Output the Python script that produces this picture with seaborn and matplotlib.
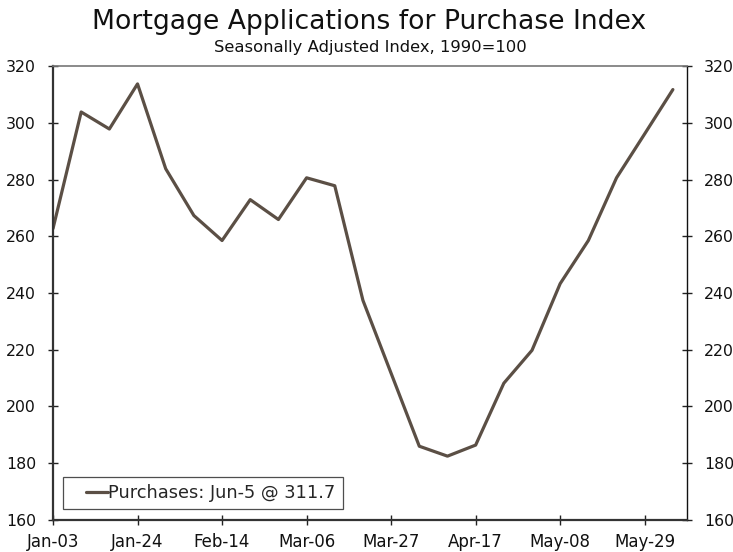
import matplotlib
matplotlib.use("Agg")
import matplotlib.pyplot as plt
from matplotlib.legend_handler import HandlerLine2D
from matplotlib.lines import Line2D
import seaborn as sns
import pandas as pd
import numpy as np

weeks = ["Jan-03", "Jan-10", "Jan-17", "Jan-24", "Jan-31", "Feb-07", "Feb-14", "Feb-21",
         "Feb-28", "Mar-06", "Mar-13", "Mar-20", "Mar-27", "Apr-03", "Apr-10", "Apr-17",
         "Apr-24", "May-01", "May-08", "May-15", "May-22", "May-29", "Jun-05"]
purchases = [262.7, 303.8, 297.8, 313.7, 283.8, 267.3, 258.5, 272.9, 265.9, 280.6, 277.8,
             237.4, 211.7, 186.0, 182.5, 186.4, 208.2, 219.8, 243.3, 258.5, 280.6, 296.1, 311.7]
tick_labels = ["Jan-03", "Jan-24", "Feb-14", "Mar-06", "Mar-27", "Apr-17", "May-08", "May-29"]
y_ticks = [160, 180, 200, 220, 240, 260, 280, 300, 320]
series_label = "Purchases: Jun-5 @ 311.7"

df = pd.DataFrame({"idx": np.arange(len(weeks)), "week": weeks, "value": purchases})

sns.set_theme(style="white")
plt.rcParams["font.family"] = ["DejaVu Sans"]

fig = plt.figure(figsize=(7.33, 5.52), dpi=100)
ax = fig.add_axes([0.0723, 0.058, 0.9372 - 0.0723, 0.8804 - 0.058])

line_color = "#5b4f45"
sns.lineplot(data=df, x="idx", y="value", ax=ax, color=line_color, linewidth=2.3,
             label=series_label)

ax.set_xlim(0, 22.5)
ax.set_ylim(160, 320)
tick_pos = [weeks.index(t) for t in tick_labels]
ax.set_xticks(tick_pos)
ax.set_xticklabels(tick_labels)
ax.set_yticks(y_ticks)
ax.set_xlabel("")
ax.set_ylabel("")

ax.tick_params(axis="x", direction="inout", length=7.5, width=1.0, color="#222222",
               labelsize=12, pad=5.8, labelcolor="#111111", bottom=True)
ax.tick_params(axis="y", direction="inout", length=7.5, width=1.0, color="#222222",
               labelsize=11.3, pad=8.5, labelcolor="#111111", left=True, right=True,
               labelright=True)

for s in ["left", "bottom"]:
    ax.spines[s].set_color("#333333")
    ax.spines[s].set_linewidth(1.6)
ax.spines["right"].set_color("#111111")
ax.spines["right"].set_linewidth(1.0)
ax.spines["top"].set_color("#777777")
ax.spines["top"].set_linewidth(1.2)


class RightLineHandler(HandlerLine2D):
    """Draw the legend line only in the right part of the handle box."""
    def get_xdata(self, legend, xdescent, ydescent, width, height, fontsize):
        x0 = -xdescent + width * 0.42
        x1 = -xdescent + width
        xd = np.array([x0, x1])
        return xd, np.array([(x0 + x1) / 2])


handles, labels = ax.get_legend_handles_labels()
leg = ax.legend(handles, labels, loc="lower left", bbox_to_anchor=(0.0155, 0.024),
                frameon=True, fancybox=False, fontsize=12.8, handlelength=2.15,
                handletextpad=0.0, borderpad=0.4, borderaxespad=0.0,
                handler_map={Line2D: RightLineHandler()})
leg.get_frame().set_edgecolor("#222222")
leg.get_frame().set_linewidth(0.9)

fig.text(0.503, 0.947, "Mortgage Applications for Purchase Index", ha="center", va="baseline",
         fontsize=19.2, color="#111111")
fig.text(0.505, 0.9064, "Seasonally Adjusted Index, 1990=100", ha="center", va="baseline",
         fontsize=11.8, color="#111111")

fig.savefig("out.png", dpi=100)
